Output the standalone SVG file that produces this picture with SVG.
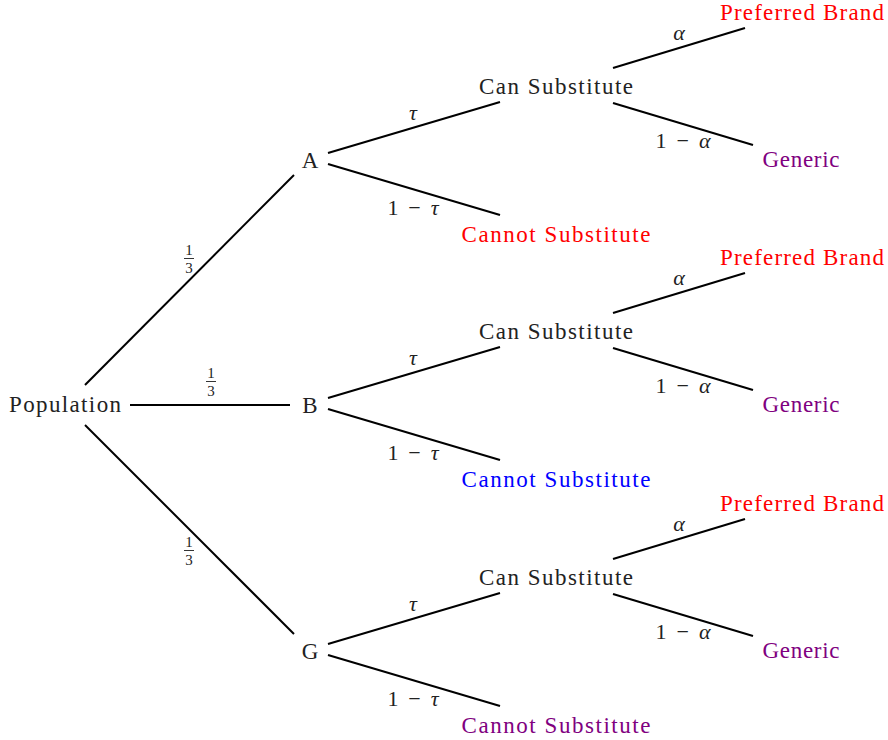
<svg xmlns="http://www.w3.org/2000/svg" width="888" height="740" viewBox="0 0 888 740">
<style>
text{font-family:"Liberation Serif","DejaVu Serif","Times New Roman",serif;font-size:23px;text-anchor:middle;fill:#222}
.m{font-size:22px}
.i{font-style:italic}
.f{font-size:15px}
.red{fill:#ff0000}
.blue{fill:#0000ff}
.pur{fill:#800080}
line{stroke:#000;stroke-width:2;stroke-linecap:butt}
.bar{stroke-width:0.8}
</style>
<rect width="888" height="740" fill="#fff"/>
<g id="connectors">
<line x1="85" y1="385" x2="294" y2="175"/>
<line x1="130" y1="405" x2="290" y2="405"/>
<line x1="85" y1="425" x2="294" y2="634"/>
<line x1="328" y1="153" x2="500" y2="102"/>
<line x1="328" y1="164" x2="500" y2="215"/>
<line x1="613" y1="68" x2="745" y2="28"/>
<line x1="613" y1="103" x2="753" y2="145"/>
<line x1="328" y1="398" x2="500" y2="347"/>
<line x1="328" y1="409" x2="500" y2="460"/>
<line x1="613" y1="313" x2="745" y2="273"/>
<line x1="613" y1="348" x2="753" y2="390"/>
<line x1="328" y1="644" x2="500" y2="593"/>
<line x1="328" y1="655" x2="500" y2="706"/>
<line x1="613" y1="559" x2="745" y2="519"/>
<line x1="613" y1="594" x2="753" y2="636"/>
</g>
<g id="edge-labels">
<g id="lab-pop-A"><text class="f" x="189" y="255">1</text><line class="bar" x1="184" y1="258.5" x2="194" y2="258.5"/><text class="f" x="189" y="273">3</text></g>
<g id="lab-pop-B"><text class="f" x="211" y="378">1</text><line class="bar" x1="206" y1="381.5" x2="216" y2="381.5"/><text class="f" x="211" y="396">3</text></g>
<g id="lab-pop-G"><text class="f" x="189" y="547">1</text><line class="bar" x1="184" y1="550.5" x2="194" y2="550.5"/><text class="f" x="189" y="565">3</text></g>
<text class="m i" x="413" y="120">τ</text>
<text class="m" x="413" y="215" textLength="51" lengthAdjust="spacing">1 − <tspan class="i">τ</tspan></text>
<text class="m i" x="679" y="40">α</text>
<text class="m" x="683" y="148" textLength="55" lengthAdjust="spacing">1 − <tspan class="i">α</tspan></text>
<text class="m i" x="413" y="365">τ</text>
<text class="m" x="413" y="460" textLength="51" lengthAdjust="spacing">1 − <tspan class="i">τ</tspan></text>
<text class="m i" x="679" y="285">α</text>
<text class="m" x="683" y="393" textLength="55" lengthAdjust="spacing">1 − <tspan class="i">α</tspan></text>
<text class="m i" x="413" y="611">τ</text>
<text class="m" x="413" y="706" textLength="51" lengthAdjust="spacing">1 − <tspan class="i">τ</tspan></text>
<text class="m i" x="679" y="531">α</text>
<text class="m" x="683" y="639" textLength="55" lengthAdjust="spacing">1 − <tspan class="i">α</tspan></text>
</g>
<g id="node-population"><text x="65" y="412" textLength="112" lengthAdjust="spacing">Population</text></g>
<g id="node-A"><text x="310" y="168">A</text></g>
<g id="node-B"><text x="310" y="413">B</text></g>
<g id="node-G"><text x="310" y="659">G</text></g>
<g id="node-A-can"><text x="556" y="94" textLength="154" lengthAdjust="spacing">Can Substitute</text></g>
<g id="node-A-cannot"><text class="red" x="556" y="242" textLength="189" lengthAdjust="spacing">Cannot Substitute</text></g>
<g id="node-A-pref"><text class="red" x="802" y="20" textLength="164" lengthAdjust="spacing">Preferred Brand</text></g>
<g id="node-A-gen"><text class="pur" x="801" y="167" textLength="77" lengthAdjust="spacing">Generic</text></g>
<g id="node-B-can"><text x="556" y="339" textLength="154" lengthAdjust="spacing">Can Substitute</text></g>
<g id="node-B-cannot"><text class="blue" x="556" y="487" textLength="189" lengthAdjust="spacing">Cannot Substitute</text></g>
<g id="node-B-pref"><text class="red" x="802" y="265" textLength="164" lengthAdjust="spacing">Preferred Brand</text></g>
<g id="node-B-gen"><text class="pur" x="801" y="412" textLength="77" lengthAdjust="spacing">Generic</text></g>
<g id="node-G-can"><text x="556" y="585" textLength="154" lengthAdjust="spacing">Can Substitute</text></g>
<g id="node-G-cannot"><text class="pur" x="556" y="733" textLength="189" lengthAdjust="spacing">Cannot Substitute</text></g>
<g id="node-G-pref"><text class="red" x="802" y="511" textLength="164" lengthAdjust="spacing">Preferred Brand</text></g>
<g id="node-G-gen"><text class="pur" x="801" y="658" textLength="77" lengthAdjust="spacing">Generic</text></g>
</svg>
